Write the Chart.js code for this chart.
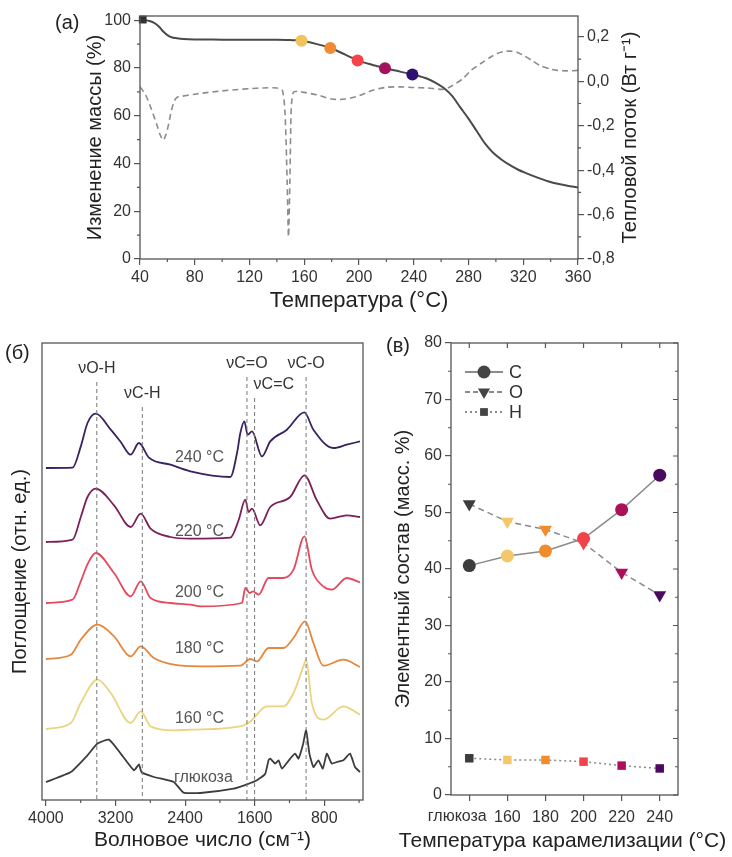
<!DOCTYPE html>
<html>
<head>
<meta charset="utf-8">
<script src="https://cdn.jsdelivr.net/npm/chart.js@4.4.1/dist/chart.umd.min.js"></script>
<style>
  body { margin: 0; background: #fff; width: 732px; height: 857px; position: relative; overflow: hidden; }
  canvas { position: absolute; }
  #tga { left: 0; top: 0; }
  #ftir { left: 0; top: 320px; }
  #comp { left: 370px; top: 320px; }
  .tag { position: absolute; font: 20px 'Liberation Sans', Arial, sans-serif; line-height: 20px; color: #222; }
</style>
</head>
<body>
<canvas id="tga" width="732" height="320"></canvas>
<canvas id="ftir" width="380" height="537"></canvas>
<canvas id="comp" width="362" height="537"></canvas>
<div class="tag" style="left:55px;top:12px">(a)</div>
<div class="tag" style="left:5px;top:342px">(б)</div>
<div class="tag" style="left:386px;top:335px">(в)</div>
<script>
// ---- (a) термогравиметрия + ДСК ----
var tgaT    = [40, 43, 47, 50, 54, 57, 60, 63, 67, 72, 80, 100, 120, 140, 150, 155, 160, 170, 180, 190, 200, 210, 220, 230, 240, 250, 256, 262, 268, 274, 280, 286, 292, 298, 304, 310, 316, 322, 330, 338, 346, 354, 360];
var tgaMass = [100.3, 100.1, 99.7, 99.0, 97.3, 95.3, 93.8, 92.9, 92.5, 92.2, 92.0, 91.9, 91.8, 91.8, 91.7, 91.6, 91.2, 89.9, 88.2, 85.6, 83.0, 81.3, 79.8, 78.5, 77.2, 75.5, 73.8, 71.6, 68.3, 63.5, 58.8, 53.6, 48.4, 44.5, 41.7, 39.4, 37.5, 36.0, 34.2, 32.6, 31.4, 30.5, 30.0];
var dscT    = [40, 44, 48, 52, 55, 57, 59, 61, 63, 65, 67, 70, 80, 90, 100, 110, 120, 130, 140, 144, 146, 147.5, 148.5, 149.5, 150.5, 152, 155, 160, 170, 180, 190, 200, 210, 220, 230, 240, 250, 262, 268, 276, 282, 289, 295, 301, 306, 310, 315, 320, 326, 332, 340, 345, 352, 360];
var dscFlow = [-0.025, -0.06, -0.12, -0.19, -0.245, -0.265, -0.24, -0.19, -0.13, -0.09, -0.072, -0.068, -0.058, -0.05, -0.043, -0.038, -0.033, -0.03, -0.03, -0.04, -0.15, -0.45, -0.70, -0.45, -0.12, -0.05, -0.045, -0.05, -0.062, -0.08, -0.08, -0.065, -0.04, -0.027, -0.025, -0.028, -0.03, -0.036, -0.02, 0.013, 0.05, 0.08, 0.105, 0.125, 0.134, 0.136, 0.132, 0.117, 0.095, 0.072, 0.055, 0.049, 0.047, 0.049];
var sampleT    = [158, 179, 199, 219, 239];
var sampleMass = [91.4, 88.4, 83.2, 79.9, 77.3];
var tgaColors  = ['#f2c35a', '#f08a36', '#f4434b', '#a3125e', '#2e1170'];
var tempTicks  = [40, 80, 120, 160, 200, 240, 280, 320, 360];
var massTicks  = [0, 20, 40, 60, 80, 100];
var heatTicks  = [-0.8, -0.6, -0.4, -0.2, 0, 0.2];

// ---- (б) ИК-спектры ----
var wnGlu = [4000, 3713, 3522, 3407, 3275, 3140, 2988, 2930, 2900, 2759, 2530, 2418, 2224, 1842, 1689, 1574, 1480, 1440, 1421, 1364, 1326, 1287, 1192, 1135, 1097, 1047, 1009, 971, 925, 868, 817, 771, 714, 657, 581, 504, 447, 390];
var abGlu = [0, 0.1, 0.267, 0.384, 0.424, 0.284, 0.117, 0.177, 0.097, 0.05, 0, -0.106, -0.11, -0.066, -0.023, 0.017, 0.08, 0.22, 0.234, 0.184, 0.217, 0.134, 0.234, 0.284, 0.234, 0.367, 0.517, 0.284, 0.15, 0.217, 0.134, 0.284, 0.184, 0.2, 0.217, 0.284, 0.15, 0.1];
var wn160 = [4000, 3713, 3600, 3407, 3255, 3026, 2911, 2797, 2530, 2338, 1765, 1650, 1459, 1269, 1154, 1040, 1009, 943, 811, 581, 390];
var ab160 = [0, 0.06, 0.26, 0.493, 0.36, 0.06, 0.176, 0.026, -0.014, -0.007, 0.026, 0.076, 0.226, 0.226, 0.36, 0.626, 0.693, 0.26, 0.093, 0.226, 0.143];
var wn180 = [4000, 3713, 3600, 3407, 3217, 3026, 2911, 2759, 2530, 2224, 1765, 1650, 1574, 1441, 1269, 1154, 1020, 925, 811, 581, 390];
var ab180 = [0, 0.043, 0.193, 0.343, 0.226, 0.026, 0.126, 0.01, -0.057, -0.074, -0.067, 0, -0.024, 0.11, 0.11, 0.21, 0.376, 0.16, -0.067, -0.007, -0.08];
var wn200 = [4000, 3694, 3599, 3522, 3427, 3217, 3026, 2911, 2797, 2567, 2338, 2224, 1746, 1708, 1658, 1620, 1555, 1441, 1269, 1154, 1028, 943, 811, 714, 542, 390];
var ab200 = [0, 0.033, 0.217, 0.387, 0.5, 0.3, 0.067, 0.217, 0.05, 0, -0.017, -0.034, 0, 0.15, 0.1, 0.116, 0.083, 0.25, 0.25, 0.333, 0.666, 0.333, 0.166, 0.133, 0.25, 0.206];
var wn220 = [4000, 3694, 3599, 3522, 3427, 3217, 3026, 2911, 2797, 2567, 2338, 1880, 1785, 1708, 1670, 1631, 1536, 1421, 1192, 1028, 886, 734, 542, 390];
var ab220 = [0, 0.024, 0.25, 0.45, 0.534, 0.367, 0.15, 0.284, 0.134, 0.05, 0.034, 0.044, 0.217, 0.424, 0.3, 0.334, 0.167, 0.35, 0.45, 0.667, 0.417, 0.234, 0.267, 0.25];
var wn240 = [4000, 3694, 3599, 3522, 3427, 3255, 3140, 3026, 2931, 2816, 2567, 2338, 1880, 1803, 1765, 1719, 1681, 1631, 1516, 1421, 1230, 1030, 925, 696, 542, 390];
var ab240 = [0, 0.003, 0.216, 0.45, 0.543, 0.383, 0.26, 0.133, 0.25, 0.103, 0.033, -0.034, -0.09, 0.15, 0.35, 0.466, 0.333, 0.366, 0.116, 0.266, 0.383, 0.556, 0.383, 0.2, 0.233, 0.266];
var specNames   = ['глюкоза', '160 °C', '180 °C', '200 °C', '220 °C', '240 °C'];
var specOffset  = [0.18, 0.71, 1.41, 1.97, 2.58, 3.32];
var specColors  = ['#3c3c3c', '#ead47f', '#e8863a', '#e6485c', '#7c2059', '#3a2260'];
var bandNames   = ['νO-H', 'νC-H', 'νC=O', 'νC=C', 'νC-O'];
var bandWn      = [3415, 2892, 1689, 1601, 1009];
var bandTop     = [4.18, 3.93, 4.23, 4.02, 4.23];
var wnTicks     = [4000, 3200, 2400, 1600, 800];

// ---- (в) элементный состав ----
var samples  = ['глюкоза', '160', '180', '200', '220', '240'];
var carbon   = [40.6, 42.3, 43.2, 45.4, 50.5, 56.6];
var oxygen   = [51.5, 48.4, 47.0, 44.6, 39.4, 35.4];
var hydrogen = [6.5, 6.2, 6.2, 5.9, 5.2, 4.7];
var compColors = ['#3d3d3d', '#f3c76a', '#f08c2c', '#f2434b', '#ad1058', '#4b0b5c'];
var compTicks  = [0, 10, 20, 30, 40, 50, 60, 70, 80];

var FONT = "'Liberation Sans', Arial, sans-serif";
var FRAME = '#555';
Chart.defaults.font.family = FONT;
Chart.defaults.color = '#333';

function pts(xs, ys, off) {
  return xs.map(function (x, i) { return { x: x, y: ys[i] + (off || 0) }; });
}
function setTicks(vals) {
  return function (s) { s.ticks = vals.map(function (v) { return { value: v }; }); };
}
function range(a, b, step) {
  var out = [];
  for (var v = a; v <= b + 1e-9; v += step) out.push(Math.round(v * 100) / 100);
  return out;
}
// короткие метки: len > 0 наружу, len < 0 внутрь
function marks(chart, id, vals, side, len) {
  var ctx = chart.ctx, a = chart.chartArea, s = chart.scales[id];
  ctx.save();
  ctx.strokeStyle = FRAME;
  ctx.lineWidth = 1.2;
  ctx.beginPath();
  vals.forEach(function (v) {
    var p = s.getPixelForValue(v);
    if (side === 'bottom') { ctx.moveTo(p, a.bottom); ctx.lineTo(p, a.bottom + len); }
    if (side === 'top') { ctx.moveTo(p, a.top); ctx.lineTo(p, a.top - len); }
    if (side === 'left') { ctx.moveTo(a.left, p); ctx.lineTo(a.left - len, p); }
    if (side === 'right') { ctx.moveTo(a.right, p); ctx.lineTo(a.right + len, p); }
  });
  ctx.stroke();
  ctx.restore();
}
function frame(extra) {
  return {
    id: 'frame',
    afterDraw: function (chart) {
      var ctx = chart.ctx, a = chart.chartArea;
      ctx.save();
      ctx.strokeStyle = FRAME;
      ctx.lineWidth = 1.3;
      ctx.strokeRect(a.left, a.top, a.right - a.left, a.bottom - a.top);
      ctx.restore();
      if (extra) extra(chart);
    }
  };
}
function axisBase(extra) {
  var o = {
    border: { display: false },
    grid: { drawOnChartArea: false, tickLength: 6, color: FRAME, lineWidth: 1.2 },
    ticks: { font: { size: 16 }, color: '#333', callback: function (v) { return String(v); } }
  };
  for (var k in extra) o[k] = extra[k];
  return o;
}
function title(text, size) {
  return { display: true, text: text, font: { size: size || 20 }, color: '#222', padding: 4 };
}
function freeText(ctx, text, x, y, size, rot, color) {
  ctx.save();
  ctx.translate(x, y);
  if (rot) ctx.rotate(rot);
  ctx.font = size + 'px ' + FONT;
  ctx.fillStyle = color || '#222';
  ctx.textAlign = 'center';
  ctx.textBaseline = 'middle';
  ctx.fillText(text, 0, 0);
  ctx.restore();
}

// ---------- (a) ----------
new Chart(document.getElementById('tga'), {
  type: 'line',
  data: {
    datasets: [
      { data: pts(sampleT, sampleMass), yAxisID: 'y', showLine: false, order: 0,
        pointRadius: 6, pointBackgroundColor: tgaColors, pointBorderColor: tgaColors, pointBorderWidth: 0 },
      { data: [{ x: 42, y: 100.3 }], yAxisID: 'y', showLine: false, order: 0, clip: false,
        pointStyle: 'rect', pointRadius: 5.5, pointBackgroundColor: '#333', pointBorderWidth: 0 },
      { data: pts(tgaT, tgaMass), yAxisID: 'y', order: 1, borderColor: '#4a4a4a', borderWidth: 2,
        pointRadius: 0, cubicInterpolationMode: 'monotone' },
      { data: pts(dscT, dscFlow), yAxisID: 'y1', order: 2, borderColor: '#8c8c8c', borderWidth: 1.6,
        borderDash: [6, 4], pointRadius: 0, tension: 0.25 }
    ]
  },
  options: {
    responsive: false, animation: false, devicePixelRatio: 1,
    layout: { padding: { left: 79, right: 104, top: 16, bottom: 2 } },
    plugins: { legend: { display: false }, tooltip: { enabled: false } },
    scales: {
      x: axisBase({ type: 'linear', min: 40, max: 360, afterBuildTicks: setTicks(tempTicks),
        title: title('Температура (°C)', 22), afterFit: function (s) { s.height = 59; } }),
      y: axisBase({ position: 'left', min: 0, max: 101.8, afterBuildTicks: setTicks(massTicks),
        title: title('Изменение массы (%)'), afterFit: function (s) { s.width = 61; } }),
      y1: axisBase({ position: 'right', min: -0.8, max: 0.294, afterBuildTicks: setTicks(heatTicks),
        ticks: { font: { size: 16 }, color: '#333', padding: 3,
          callback: function (v) { return v.toFixed(1).replace('.', ','); } },
        afterFit: function (s) { s.width = 50; } })
    }
  },
  plugins: [frame(function (chart) {
    marks(chart, 'x', range(60, 340, 40), 'bottom', 3);
    marks(chart, 'y', range(10, 90, 20), 'left', 3);
    marks(chart, 'y1', range(-0.7, 0.1, 0.2), 'right', 3);
    var a = chart.chartArea;
    freeText(chart.ctx, 'Тепловой поток (Вт г⁻¹)', chart.scales.y1.right + 2, (a.top + a.bottom) / 2, 20, -Math.PI / 2);
  })]
});

// ---------- (б) ----------
var specWn = [wnGlu, wn160, wn180, wn200, wn220, wn240];
var specAb = [abGlu, ab160, ab180, ab200, ab220, ab240];
var ftirSets = [];
bandWn.forEach(function (w, i) {
  ftirSets.push({ data: [{ x: w, y: bandTop[i] }, { x: w, y: 0 }], borderColor: '#777', borderWidth: 1,
    borderDash: [4, 3], pointRadius: 0 });
});
specWn.forEach(function (w, i) {
  ftirSets.push({ data: pts(w, specAb[i], specOffset[i]), borderColor: specColors[i], borderWidth: 1.8,
    pointRadius: 0, cubicInterpolationMode: i === 0 ? 'default' : 'monotone', tension: i === 0 ? 0.15 : 0.4 });
});
new Chart(document.getElementById('ftir'), {
  type: 'line',
  data: { datasets: ftirSets },
  options: {
    responsive: false, animation: false, devicePixelRatio: 1,
    layout: { padding: { left: 4, right: 17, top: 23, bottom: 0 } },
    plugins: { legend: { display: false }, tooltip: { enabled: false } },
    scales: {
      x: axisBase({ type: 'linear', reverse: true, min: 355, max: 4045, afterBuildTicks: setTicks(wnTicks),
        title: title('Волновое число (см⁻¹)', 21), afterFit: function (s) { s.height = 57; } }),
      y: { min: 0, max: 4.57, border: { display: false }, grid: { display: false }, ticks: { display: false },
        title: title('Поглощение (отн. ед.)'), afterFit: function (s) { s.width = 38; } }
    }
  },
  plugins: [frame(function (chart) {
    marks(chart, 'x', [3600, 2800, 2000, 1200, 400], 'bottom', 3);
    var ctx = chart.ctx, sx = chart.scales.x, sy = chart.scales.y;
    ctx.save();
    ctx.font = '16px ' + FONT;
    ctx.textBaseline = 'middle';
    ctx.fillStyle = '#333';
    bandNames.forEach(function (n, i) {
      var left = n === 'νC=C';
      ctx.textAlign = left ? 'left' : 'center';
      ctx.fillText(n, sx.getPixelForValue(bandWn[i]) - (left ? 1 : 0), sy.getPixelForValue(bandTop[i] + 0.13));
    });
    ctx.fillStyle = '#555';
    ctx.textAlign = 'center';
    specNames.forEach(function (n, i) {
      var w = i === 0 ? 2190 : 2235;
      var y = specOffset[i] + (i === 0 ? 0.04 : 0.1);
      ctx.fillText(n, sx.getPixelForValue(w), sy.getPixelForValue(y));
    });
    ctx.restore();
  })]
});

// ---------- (в) ----------
var idx = samples.map(function (s, i) { return i; });
new Chart(document.getElementById('comp'), {
  type: 'line',
  data: {
    datasets: [
      { label: 'C', data: pts(idx, carbon), borderColor: '#8a8a8a', borderWidth: 1.5,
        pointStyle: 'circle', pointRadius: 6.5, pointBackgroundColor: compColors, pointBorderColor: compColors, pointBorderWidth: 0 },
      { label: 'O', data: pts(idx, oxygen), borderColor: '#8a8a8a', borderWidth: 1.5, borderDash: [6, 4],
        pointStyle: 'triangle', pointRotation: 180, pointRadius: 7.5, pointBackgroundColor: compColors, pointBorderColor: compColors, pointBorderWidth: 0 },
      { label: 'H', data: pts(idx, hydrogen), borderColor: '#8a8a8a', borderWidth: 1.5, borderDash: [2, 3],
        pointStyle: 'rect', pointRadius: 6, pointBackgroundColor: compColors, pointBorderColor: compColors, pointBorderWidth: 0 }
    ]
  },
  options: {
    responsive: false, animation: false, devicePixelRatio: 1,
    layout: { padding: { left: 17, right: 54, top: 23, bottom: 0 } },
    plugins: { legend: { display: false }, tooltip: { enabled: false } },
    scales: {
      x: axisBase({ type: 'linear', min: -0.48, max: 5.48, afterBuildTicks: setTicks(idx),
        ticks: { font: { size: 16 }, color: '#333', padding: 7, maxRotation: 0, minRotation: 0, autoSkip: false,
          // первая подпись длинная, её выводим отдельно со сдвигом влево
          callback: function (v) { return v === 0 ? '' : samples[v]; } },
        afterFit: function (s) { s.height = 62; } }),
      y: axisBase({ min: 0, max: 80, afterBuildTicks: setTicks(compTicks),
        title: title('Элементный состав (масс. %)'), afterFit: function (s) { s.width = 64; } })
    }
  },
  plugins: [frame(function (chart) {
    marks(chart, 'y', range(5, 75, 10), 'left', 3);
    marks(chart, 'y', compTicks, 'right', -5);
    marks(chart, 'y', range(5, 75, 10), 'right', -3);
    marks(chart, 'x', idx, 'top', -5);
    var ctx = chart.ctx, a = chart.chartArea, sx = chart.scales.x;
    freeText(ctx, samples[0], sx.getPixelForValue(0) - 12, a.bottom + 22, 16, 0, '#333');
    // подпись оси шире области графика, поэтому рисуется отдельно
    freeText(ctx, 'Температура карамелизации (°C)', (a.left + a.right) / 2 - 2, chart.height - 16, 21, 0);
    // легенда: линия с маркером посередине
    var styles = [
      { dash: [], point: 'circle', rot: 0, r: 6.5 },
      { dash: [5, 3], point: 'triangle', rot: 180, r: 7 },
      { dash: [2, 3], point: 'rect', rot: 0, r: 5.5 }
    ];
    ['C', 'O', 'H'].forEach(function (name, i) {
      var y = a.top + 29 + i * 20, x0 = a.left + 14, x1 = a.left + 52, xm = a.left + 33;
      ctx.save();
      ctx.strokeStyle = '#666';
      ctx.lineWidth = 1.5;
      ctx.setLineDash(styles[i].dash);
      ctx.beginPath(); ctx.moveTo(x0, y); ctx.lineTo(x1, y); ctx.stroke();
      ctx.setLineDash([]);
      ctx.fillStyle = '#444';
      Chart.helpers.drawPoint(ctx, { pointStyle: styles[i].point, rotation: styles[i].rot, radius: styles[i].r, borderWidth: 0 }, xm, y);
      ctx.font = '18px ' + FONT;
      ctx.fillStyle = '#333';
      ctx.textBaseline = 'middle';
      ctx.fillText(name, x1 + 6, y + 1);
      ctx.restore();
    });
  })]
});
</script>
</body>
</html>
